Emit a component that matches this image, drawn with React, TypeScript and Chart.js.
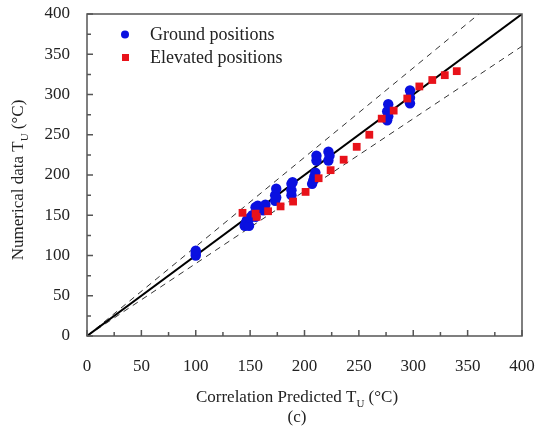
import React, { useEffect, useRef } from "react";
import { Chart, registerables } from "chart.js";

Chart.register(...registerables);

const groundX = [100, 100, 100, 145, 146, 147, 149, 150, 152, 155, 155, 157, 162, 163, 164, 173, 173, 174, 174, 188, 188, 188, 189, 207, 208, 209, 210, 211, 211, 222, 222, 223, 276, 276, 277, 277, 297, 297, 297];
const groundY = [100, 103, 106, 137, 140, 144, 137, 147, 150, 148, 160, 162, 156, 160, 163, 168, 175, 183, 172, 175, 181, 189, 191, 189, 193, 198, 203, 218, 224, 218, 229, 224, 268, 279, 273, 288, 289, 296, 305];

const elevX = [143, 155, 156, 166.5, 178, 189.5, 201, 213, 224, 236, 248, 259.6, 271, 282, 294.5, 305.6, 317.5, 329, 340];
const elevY = [153, 152, 148, 155, 161, 167, 179, 196, 206, 219, 235, 250, 270, 280, 295, 310, 318, 324, 329];

const lineX = [0, 400];
const upperRatio = 1.11;
const lowerRatio = 0.9;
const axisMin = 0;
const axisMax = 400;
const majorStep = 50;
const minorStep = 25;

const legendLabels = ["Ground positions", "Elevated positions"];
const xTitle = ["Correlation Predicted T", "U", " (°C)"];
const yTitle = ["Numerical data T", "U", " (°C)"];
const caption = "(c)";

const BLUE = "#0a10e0";
const RED = "#e8121a";
const FONT = '"Liberation Serif", "DejaVu Serif", serif';

function drawTitle(ctx: CanvasRenderingContext2D, parts: string[], cx: number, cy: number) {
  ctx.font = `17px ${FONT}`;
  const w1 = ctx.measureText(parts[0]).width;
  const w3 = ctx.measureText(parts[2]).width;
  ctx.font = `11px ${FONT}`;
  const w2 = ctx.measureText(parts[1]).width;
  const total = w1 + w2 + w3;
  let x = cx - total / 2;
  ctx.textBaseline = "middle";
  ctx.textAlign = "left";
  ctx.fillStyle = "#222";
  ctx.font = `17px ${FONT}`;
  ctx.fillText(parts[0], x, cy);
  x += w1;
  ctx.font = `11px ${FONT}`;
  ctx.fillText(parts[1], x, cy + 6);
  x += w2;
  ctx.font = `17px ${FONT}`;
  ctx.fillText(parts[2], x, cy);
}

const decor = {
  id: "decor",
  afterDraw(chart: any) {
    const { ctx, chartArea, scales } = chart;
    const { left, right, top, bottom } = chartArea;
    ctx.save();
    ctx.strokeStyle = "#555";
    ctx.lineWidth = 1.5;
    ctx.strokeRect(left, top, right - left, bottom - top);
    ctx.beginPath();
    for (let v = axisMin; v <= axisMax; v += minorStep) {
      const len = v % majorStep === 0 ? 6 : 4;
      const px = scales.x.getPixelForValue(v);
      ctx.moveTo(px, bottom);
      ctx.lineTo(px, bottom - len);
      const py = scales.y.getPixelForValue(v);
      ctx.moveTo(left, py);
      ctx.lineTo(left + len, py);
    }
    ctx.stroke();
    ctx.fillStyle = BLUE;
    ctx.beginPath();
    ctx.arc(125, 34.5, 4, 0, Math.PI * 2);
    ctx.fill();
    ctx.fillStyle = RED;
    ctx.fillRect(122, 54, 7, 7);
    ctx.fillStyle = "#222";
    ctx.font = `18px ${FONT}`;
    ctx.textAlign = "left";
    ctx.textBaseline = "middle";
    ctx.fillText(legendLabels[0], 150, 35);
    ctx.fillText(legendLabels[1], 150, 58);
    drawTitle(ctx, xTitle, 297, 398);
    ctx.font = `17px ${FONT}`;
    ctx.textAlign = "center";
    ctx.fillText(caption, 297, 418);
    ctx.translate(19, 180);
    ctx.rotate(-Math.PI / 2);
    drawTitle(ctx, yTitle, 0, 0);
    ctx.restore();
  },
};

const zeroPad = (s: any) => {
  s.paddingTop = 0;
  s.paddingBottom = 0;
  s.paddingLeft = 0;
  s.paddingRight = 0;
};

export default function App() {
  const ref = useRef<HTMLCanvasElement>(null);
  useEffect(() => {
    document.body.style.margin = "0";
    const ground = groundX.map((x, i) => ({ x, y: groundY[i] }));
    const elev = elevX.map((x, i) => ({ x, y: elevY[i] }));
    const oneToOne = lineX.map((x) => ({ x, y: x }));
    const upper = lineX.map((x) => ({ x: Math.min(x, axisMax / upperRatio), y: Math.min(x, axisMax / upperRatio) * upperRatio }));
    const lower = lineX.map((x) => ({ x, y: x * lowerRatio }));
    const chart = new Chart(ref.current!, {
      type: "scatter",
      data: {
        datasets: [
          { label: legendLabels[1], data: elev, pointStyle: "rect", pointRadius: 5.5, backgroundColor: RED, borderWidth: 0 },
          { label: legendLabels[0], data: ground, pointStyle: "circle", pointRadius: 5.2, backgroundColor: BLUE, borderWidth: 0 },
          { label: "1:1", data: oneToOne, showLine: true, pointRadius: 0, borderColor: "#000", borderWidth: 2 },
          { label: "+10%", data: upper, showLine: true, pointRadius: 0, borderColor: "#333", borderWidth: 1, borderDash: [6, 5] },
          { label: "-10%", data: lower, showLine: true, pointRadius: 0, borderColor: "#333", borderWidth: 1, borderDash: [6, 5] },
        ],
      },
      options: {
        animation: false,
        responsive: false,
        maintainAspectRatio: false,
        layout: { padding: { top: 14, right: 14, left: 0, bottom: 0 } },
        plugins: { legend: { display: false }, tooltip: { enabled: false } },
        scales: {
          x: {
            type: "linear",
            min: axisMin,
            max: axisMax,
            grid: { display: false, drawTicks: false, tickLength: 0 },
            border: { display: false },
            ticks: { stepSize: majorStep, padding: 20, color: "#222", font: { family: FONT, size: 17 } },
            afterFit: (s: any) => { s.height = 95; zeroPad(s); },
          },
          y: {
            type: "linear",
            min: axisMin,
            max: axisMax,
            grid: { display: false, drawTicks: false, tickLength: 0 },
            border: { display: false },
            ticks: { stepSize: majorStep, padding: 17, color: "#222", font: { family: FONT, size: 17 } },
            afterFit: (s: any) => { s.width = 87; zeroPad(s); },
          },
        },
      },
      plugins: [decor],
    });
    return () => chart.destroy();
  }, []);
  return (
    <div style={{ width: 536, height: 431 }}>
      <canvas ref={ref} width={536} height={431} style={{ display: "block" }} />
    </div>
  );
}
